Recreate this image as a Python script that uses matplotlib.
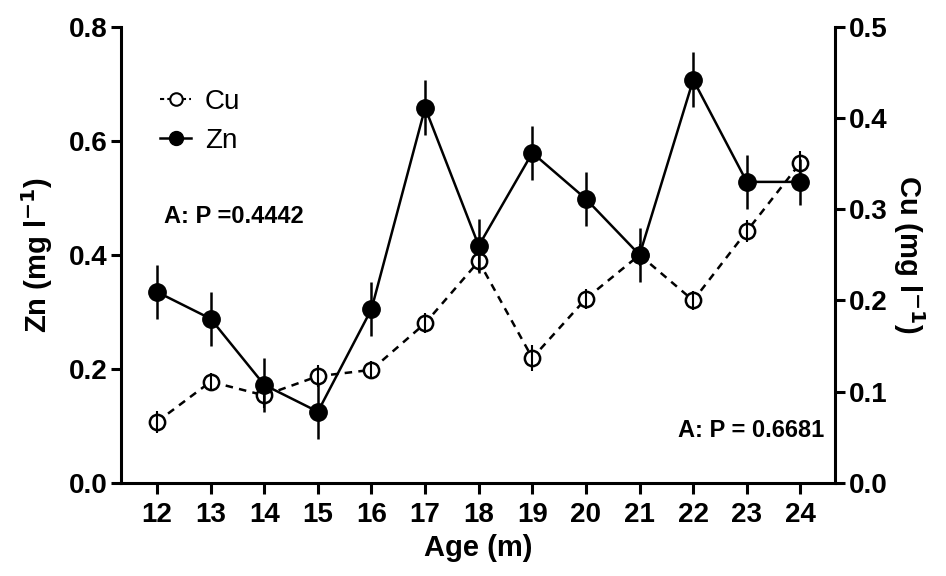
import matplotlib
matplotlib.use("Agg")
import matplotlib.pyplot as plt
from matplotlib.lines import Line2D

plt.rcParams['font.family'] = ['Liberation Sans', 'DejaVu Sans']

# data
age = [12, 13, 14, 15, 16, 17, 18, 19, 20, 21, 22, 23, 24]
zn = [0.335, 0.288, 0.172, 0.125, 0.305, 0.658, 0.416, 0.579, 0.498, 0.400, 0.707, 0.528, 0.528]
zn_err = [0.048, 0.047, 0.048, 0.048, 0.048, 0.048, 0.047, 0.047, 0.048, 0.048, 0.048, 0.048, 0.040]
cu = [0.067, 0.111, 0.096, 0.117, 0.124, 0.175, 0.243, 0.137, 0.202, 0.250, 0.200, 0.276, 0.351]
cu_err = [0.012, 0.010, 0.014, 0.012, 0.010, 0.011, 0.012, 0.014, 0.011, 0.012, 0.010, 0.012, 0.013]

zn_ticks = [0.0, 0.2, 0.4, 0.6, 0.8]
cu_ticks = [0.0, 0.1, 0.2, 0.3, 0.4, 0.5]

fig = plt.figure(figsize=(9.46, 5.76), dpi=100)
ax = fig.add_axes([0.128, 0.1615, 0.755, 0.792])
ax2 = ax.twinx()

# Cu on right axis, drawn underneath Zn
ax2.plot(age, cu, color='black', linestyle=(0, (3, 2.5)), linewidth=1.8,
         marker='o', markersize=11, markerfacecolor='white',
         markeredgecolor='black', markeredgewidth=1.8, zorder=2)
ax2.errorbar(age, cu, yerr=cu_err, fmt='none', ecolor='black', elinewidth=1.5, zorder=5)

# Zn on left axis
ax.errorbar(age, zn, yerr=zn_err, fmt='none', ecolor='black', elinewidth=1.8, zorder=1)
ax.plot(age, zn, color='black', linestyle='-', linewidth=1.8,
        marker='o', markersize=12.5, markerfacecolor='black',
        markeredgecolor='black', zorder=3)

ax.set_zorder(ax2.get_zorder() + 1)
ax.patch.set_visible(False)

ax.set_xlim(11.33, 24.65)
ax.set_ylim(0, 0.8)
ax2.set_ylim(0, 0.5)
ax.set_xticks(age)
ax.set_yticks(zn_ticks)
ax.set_yticklabels([f"{t:.1f}" for t in zn_ticks])
ax2.set_yticks(cu_ticks)
ax2.set_yticklabels([f"{t:.1f}" for t in cu_ticks])

for a in (ax, ax2):
    a.spines['top'].set_visible(False)
    for s in a.spines.values():
        s.set_linewidth(2.2)
    a.tick_params(width=2.2, length=7, labelsize=20, pad=3)
    for lab in a.get_xticklabels() + a.get_yticklabels():
        lab.set_fontweight('bold')
ax2.spines['left'].set_visible(False)
ax2.spines['bottom'].set_visible(False)
ax.spines['right'].set_visible(False)
ax.tick_params(axis='x', length=8, pad=6)

ax.set_xlabel('Age (m)', fontsize=21, fontweight='bold', labelpad=4)
ax.set_ylabel('Zn (mg l$^{\\mathbf{-1}}$)', fontsize=21, fontweight='bold', labelpad=10)
ax2.set_ylabel('Cu (mg l$^{\\mathbf{-1}}$)', fontsize=21, fontweight='bold',
               rotation=270, labelpad=28)

ax.text(0.06, 0.585, 'A: P =0.4442', transform=ax.transAxes, fontsize=17,
        fontweight='bold', va='center', ha='left')
ax.text(0.985, 0.115, 'A: P = 0.6681', transform=ax.transAxes, fontsize=17,
        fontweight='bold', va='center', ha='right')

handles = [
    Line2D([], [], color='black', linestyle=(0, (2, 1.5)), linewidth=1.5, marker='o',
           markersize=9, markerfacecolor='white', markeredgecolor='black', markeredgewidth=1.5),
    Line2D([], [], color='black', linestyle='-', linewidth=1.8, marker='o',
           markersize=10, markerfacecolor='black'),
]
ax.legend(handles, ['Cu', 'Zn'], loc='upper left', bbox_to_anchor=(0.02, 0.918),
          frameon=False, fontsize=20, handlelength=1.1, handletextpad=0.5,
          labelspacing=0.45)

fig.savefig('out.png', dpi=100)
